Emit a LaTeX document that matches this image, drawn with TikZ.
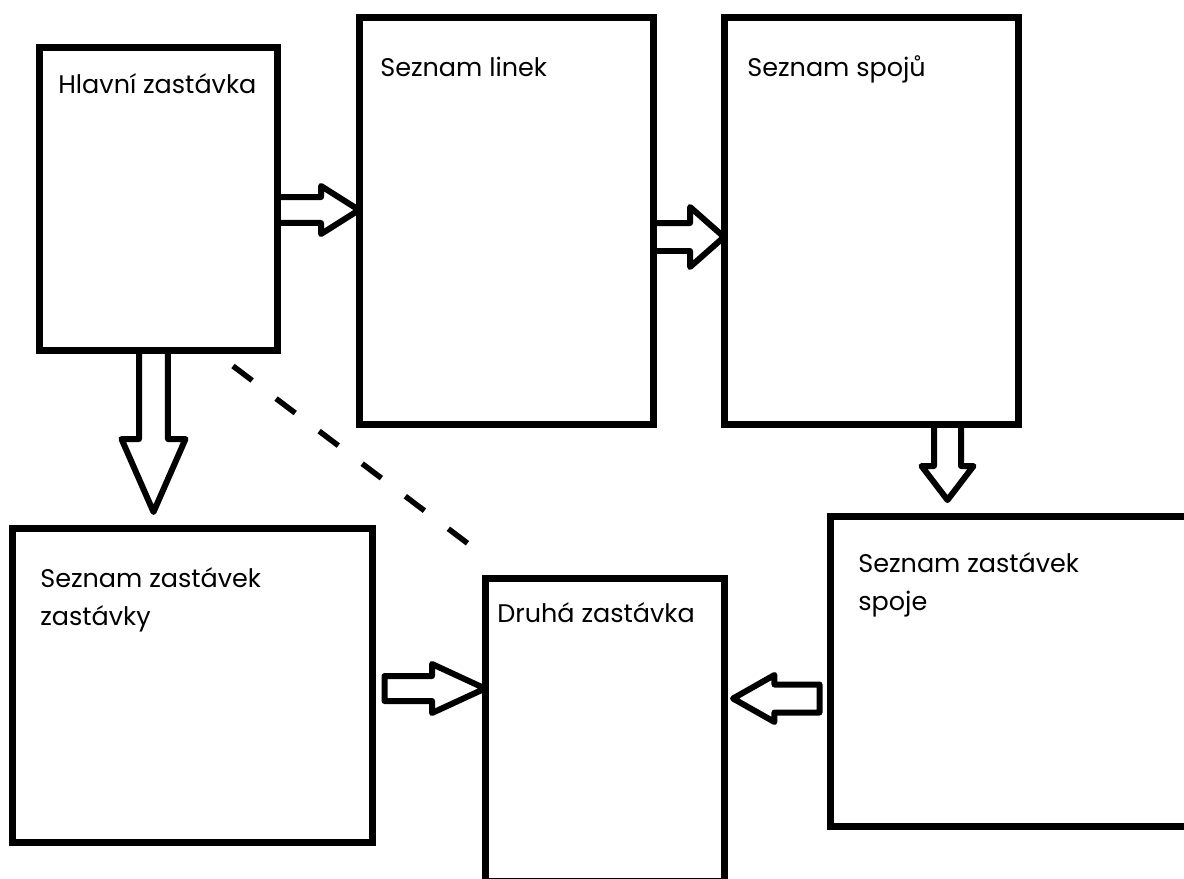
\documentclass[tikz,border=0pt]{standalone}
\usepackage{fontspec}
\setmainfont{Poppins}
\usetikzlibrary{calc}

\tikzset{
  box/.style={draw, rectangle, line width=0.14cm, outer sep=0pt, inner sep=0pt},
  lbl/.style={font=\fontsize{14.5}{21.6}\selectfont, anchor=base west, align=left, inner sep=0pt},
  arrline/.style={line width=0.12cm, line join=round},
  % outlined block arrow: shaft half width, head half width, head length
  blockarr/.style n args={3}{to path={
    let \p1=(\tikztostart), \p2=(\tikztotarget), \n1={atan2(\y2-\y1,\x2-\x1)} in
    ($(\p1)+({\n1+90}:#1)$) -- ($(\p2)+(\n1:-#3)+({\n1+90}:#1)$)
    -- ($(\p2)+(\n1:-#3)+({\n1+90}:#2)$) -- (\p2)
    -- ($(\p2)+(\n1:-#3)+({\n1-90}:#2)$) -- ($(\p2)+(\n1:-#3)+({\n1-90}:#1)$)
    -- ($(\p1)+({\n1-90}:#1)$) -- cycle}},
  dashline/.style={line width=0.11cm, dash pattern=on 0.48cm off 0.6cm}
}

\begin{document}
\begin{tikzpicture}[x=0.02cm, y=-0.02cm]
\useasboundingbox (0,0) rectangle (1184,879);
\clip (0,0) rectangle (1184,879);

% Boxes
\node[box, minimum width=4.78cm, minimum height=6.08cm] (hlavni) at (158.5,199) {};
\node[box, minimum width=5.9cm, minimum height=8.16cm] (linky) at (506.5,221) {};
\node[box, minimum width=5.9cm, minimum height=8.16cm] (spoje) at (871.5,221) {};
\node[box, minimum width=7.22cm, minimum height=6.3cm] (zastzast) at (192.5,685.5) {};
\node[box, minimum width=4.8cm, minimum height=6.08cm] (druha) at (605,730) {};
\node[box, minimum width=7.2cm, minimum height=6.22cm] (zastspoj) at (1010,671.5) {};

% Labels (base of the last line)
\node[lbl] (hlavnilbl) at (58,93) {Hlavní zastávka};
\node[lbl] (linkylbl) at (380,76) {Seznam linek};
\node[lbl] (spojelbl) at (747,76) {Seznam spojů};
\node[lbl] (zastzastlbl) at (40,625) {Seznam zastávek\\zastávky};
\node[lbl] (druhalbl) at (497,622) {Druhá zastávka};
\node[lbl] (zastspojlbl) at (858,610) {Seznam zastávek\\spoje};

% Arrow ends
\coordinate (hl0) at (hlavni.east |- 0,210);
\coordinate (hl1) at (linky.west |- 0,210);
\coordinate (ls0) at (linky.east |- 0,237);
\coordinate (ls1) at (spoje.west |- 0,237);
\coordinate (hz0) at (hlavni.south -| 153.5,0);
\coordinate (hz1) at (153.5,512);
\coordinate (sz0) at (spoje.south -| 947.5,0);
\coordinate (sz1) at (947.5,500);
\coordinate (zd0) at (384.5,688.5);
\coordinate (zd1) at (druha.west |- 0,688.5);
\coordinate (pd0) at (819.5,698.5);
\coordinate (pd1) at (733,698.5);
\coordinate (dash0) at (233,366);
\coordinate (dash1) at (487,558);

% Arrows
\draw[arrline] (hl0) to[blockarr={0.26cm}{0.48cm}{0.76cm}] (hl1);
\draw[arrline] (ls0) to[blockarr={0.28cm}{0.6cm}{0.68cm}] (ls1);
\draw[arrline] (hz0) to[blockarr={0.29cm}{0.64cm}{1.46cm}] (hz1);
\draw[arrline] (sz0) to[blockarr={0.27cm}{0.52cm}{0.68cm}] (sz1);
\draw[arrline] (zd0) to[blockarr={0.25cm}{0.49cm}{1.06cm}] (zd1);
\draw[arrline] (pd0) to[blockarr={0.28cm}{0.47cm}{0.83cm}] (pd1);

% Dashed link
\draw[dashline] (dash0) -- (dash1);
\end{tikzpicture}
\end{document}
